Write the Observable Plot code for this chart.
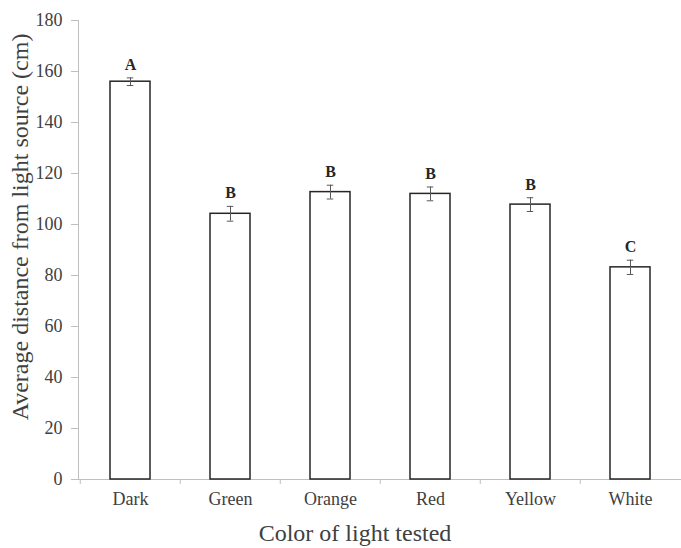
<!DOCTYPE html>
<html>
<head>
<meta charset="utf-8">
<script src="https://cdn.jsdelivr.net/npm/d3@7"></script>
<script src="https://cdn.jsdelivr.net/npm/@observablehq/plot@0.6"></script>
<style>
  html, body { margin: 0; padding: 0; background: #fff; }
  #chart { width: 681px; height: 548px; }
</style>
</head>
<body>
<div id="chart"></div>
<script>
const colors = ["Dark", "Green", "Orange", "Red", "Yellow", "White"];
const means = [156.0, 104.2, 112.7, 112.0, 107.8, 83.2];
const errors = [1.5, 2.9, 2.7, 2.7, 2.7, 2.8];
const letters = ["A", "B", "B", "B", "B", "C"];
const yTicks = [0, 20, 40, 60, 80, 100, 120, 140, 160, 180];
const xTitle = "Color of light tested";
const yTitle = "Average distance from light source (cm)";

const data = colors.map((c, i) => ({
  color: c,
  mean: means[i],
  lo: means[i] - errors[i],
  hi: means[i] + errors[i],
  letter: letters[i]
}));

const W = 681, H = 548, ML = 78, MR = 0;
const band = (W - ML - MR) / colors.length;
const axisGray = "#bfbfbf";
const textColor = "#404040";

const chart = Plot.plot({
  width: W,
  height: H,
  marginLeft: ML,
  marginRight: MR,
  marginTop: 20,
  marginBottom: 69,
  style: { fontFamily: "'Liberation Serif', 'Times New Roman', serif", background: "#fff", color: textColor },
  x: { domain: colors, padding: 0 },
  y: { domain: [0, 180] },
  marks: [
    Plot.frame({ anchor: "left", stroke: axisGray }),
    Plot.frame({ anchor: "bottom", stroke: axisGray }),
    Plot.axisY({ ticks: yTicks, tickSize: 7, tickPadding: 9, stroke: axisGray, fill: textColor, fontSize: 18, label: null }),
    Plot.axisX({ tickSize: 0, tickPadding: 13, fill: textColor, fontSize: 18, label: null }),
    Plot.axisX({ tickSize: 5, tickFormat: () => "", stroke: axisGray, dx: -band / 2, label: null }),
    Plot.barY(data, { x: "color", y: "mean", fill: "#fff", stroke: "#262626", strokeWidth: 1.5, insetLeft: 30, insetRight: 30 }),
    Plot.ruleX(data, { x: "color", y1: "lo", y2: "hi", stroke: "#595959", strokeWidth: 1 }),
    Plot.tickY(data, { x: "color", y: "lo", stroke: "#595959", strokeWidth: 1, inset: (band - 7) / 2 }),
    Plot.tickY(data, { x: "color", y: "hi", stroke: "#595959", strokeWidth: 1, inset: (band - 7) / 2 }),
    Plot.text(data, { x: "color", y: "hi", text: "letter", lineAnchor: "bottom", dy: -8, fontWeight: "bold", fontSize: 16, fill: "#262626" }),
    Plot.text([yTitle], { text: d => d, frameAnchor: "left", textAnchor: "middle", lineAnchor: "middle", rotate: -90, dx: -58, dy: -23, fontSize: 24, fill: textColor }),
    Plot.text([xTitle], { text: d => d, frameAnchor: "bottom", textAnchor: "middle", lineAnchor: "middle", dx: -25, dy: 54, fontSize: 24, fill: textColor })
  ]
});
document.getElementById("chart").appendChild(chart);
</script>
</body>
</html>
